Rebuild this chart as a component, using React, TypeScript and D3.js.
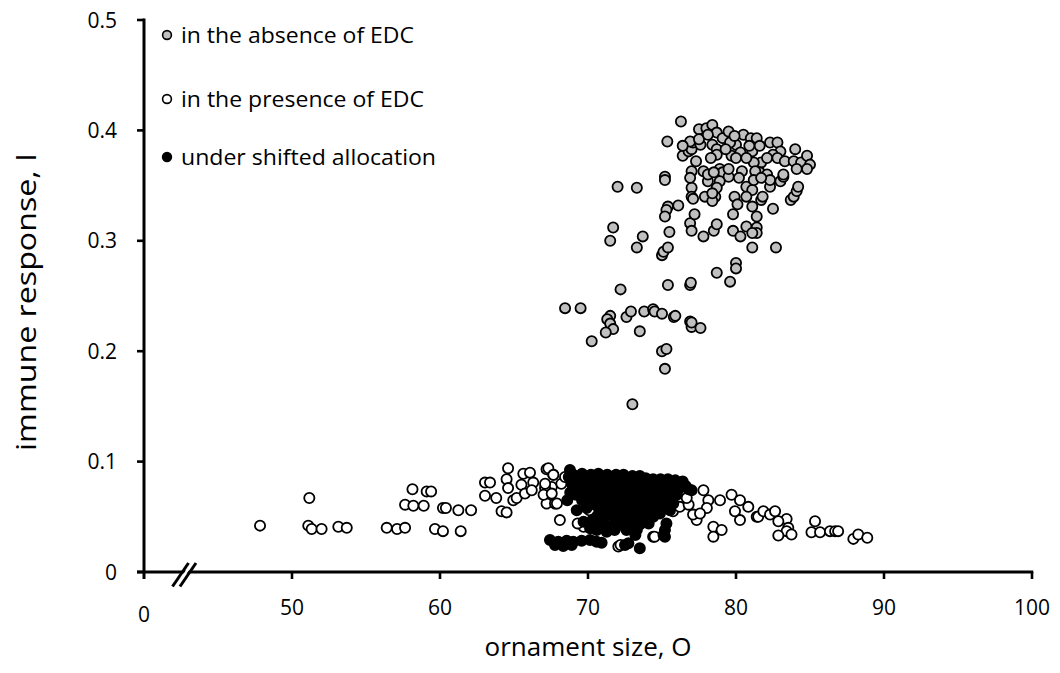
import React from "react";
import * as d3 from "d3";

// ---- data (ornament size O, immune response I) ----
const absenceEDC: [number, number][] = [
  [76.28,0.408],[75.36,0.390],[72.0,0.349],[73.3,0.348],[75.2,0.358],[75.2,0.355],[71.7,0.312],[71.5,0.300],
  [73.7,0.304],[73.3,0.294],[75.4,0.331],[75.3,0.328],[75.2,0.322],[76.1,0.332],[75.5,0.308],[75.0,0.287],
  [75.1,0.290],[75.4,0.294],[72.2,0.256],[75.4,0.260],[76.9,0.260],[76.95,0.262],[78.7,0.271],[79.6,0.263],
  [80.0,0.280],[80.0,0.275],[81.1,0.294],[82.7,0.294],[76.9,0.316],[77.0,0.309],[77.2,0.324],[77.8,0.304],
  [78.5,0.309],[78.7,0.315],[79.8,0.324],[79.8,0.309],[80.3,0.304],[80.7,0.313],[81.4,0.312],[81.4,0.307],
  [81.1,0.307],[81.1,0.331],[81.4,0.322],[82.5,0.329],[81.7,0.337],[81.8,0.340],[79.9,0.340],[80.1,0.333],
  [80.7,0.349],[81.1,0.346],[82.3,0.349],[83.0,0.354],[83.2,0.358],[83.7,0.337],[83.9,0.340],[84.1,0.345],
  [84.2,0.349],[77.0,0.348],[77.0,0.340],[77.1,0.338],[77.9,0.340],[78.1,0.354],[78.6,0.340],[78.4,0.336],
  [78.9,0.365],[79.1,0.362],[79.5,0.358],[77.0,0.363],[76.9,0.357],[77.8,0.363],[78.1,0.360],[77.3,0.372],
  [76.4,0.377],[76.8,0.381],[77.0,0.383],[77.1,0.389],[76.9,0.390],[77.5,0.401],[78.0,0.402],[78.4,0.405],
  [78.7,0.398],[77.6,0.387],[78.4,0.387],[78.7,0.383],[78.7,0.378],[79.1,0.393],[79.5,0.399],[80.0,0.387],
  [79.7,0.377],[80.3,0.380],[80.5,0.396],[81.0,0.393],[81.4,0.393],[81.1,0.381],[81.6,0.386],[81.7,0.371],
  [81.2,0.371],[81.6,0.362],[81.3,0.363],[81.2,0.355],[82.3,0.389],[82.8,0.389],[83.0,0.381],[82.5,0.378],
  [82.1,0.375],[82.8,0.375],[83.3,0.372],[83.9,0.372],[84.4,0.371],[84.8,0.377],[85.0,0.369],[84.0,0.383],
  [84.8,0.365],[84.1,0.365],[83.2,0.360],[80.4,0.363],[79.5,0.365],[78.9,0.354],[78.7,0.348],[78.4,0.343],
  [82.1,0.360],[82.3,0.355],[76.4,0.386],[77.5,0.392],[78.1,0.396],[79.6,0.389],[80.0,0.375],[80.7,0.375],
  [78.5,0.362],[80.7,0.340],[81.7,0.357],[79.3,0.383],[80.9,0.386],[79.9,0.395],[78.3,0.375],[80.2,0.357],
  [68.45,0.239],[69.5,0.239],[71.5,0.232],[71.3,0.229],[71.5,0.225],[71.7,0.220],[71.2,0.217],[70.25,0.209],
  [72.6,0.231],[72.9,0.236],[73.5,0.218],[73.8,0.236],[74.4,0.238],[74.5,0.236],[75.0,0.234],[75.8,0.231],
  [75.9,0.232],[76.9,0.227],[77.0,0.222],[77.0,0.226],[77.6,0.221],[75.0,0.200],[75.3,0.202],[75.2,0.184],
  [73.0,0.152]
];

const presenceEDC: [number, number][] = [
  [47.84,0.042],[51.17,0.067],[51.1,0.042],[51.33,0.039],[52.0,0.039],[53.13,0.041],[53.7,0.040],
  [56.4,0.040],[57.1,0.039],[57.64,0.040],[58.14,0.075],[57.64,0.061],[58.2,0.060],[58.9,0.060],
  [59.1,0.073],[59.4,0.073],[59.66,0.039],[60.2,0.037],[60.2,0.058],[60.4,0.058],[61.24,0.056],[62.1,0.056],
  [61.4,0.037],[63.04,0.081],[63.38,0.081],[63.04,0.069],[63.8,0.067],[64.16,0.055],[64.5,0.054],
  [64.6,0.094],[64.5,0.084],[64.6,0.076],[64.95,0.065],[65.18,0.067],[65.63,0.089],[66.08,0.090],
  [66.3,0.081],[67.2,0.093],[67.65,0.088],[67.55,0.077],[67.1,0.076],[67.2,0.062],[67.77,0.062],
  [65.5,0.079],[65.74,0.071],[66.2,0.074],[67.32,0.094],[67.66,0.088],[67.1,0.080],[67.0,0.070],
  [67.9,0.062],[67.55,0.071],[68.1,0.047],[68.2,0.080],[68.45,0.086],[69.7,0.041],[70.36,0.055],
  [69.3,0.044],[70.1,0.056],[72.05,0.023],[72.2,0.0245],[74.4,0.032],[74.5,0.032],[75.74,0.055],[75.74,0.067],
  [76.2,0.059],[76.8,0.061],[77.34,0.047],[77.8,0.074],[78.13,0.065],[78.03,0.058],[78.47,0.041],[78.47,0.032],
  [79.03,0.038],[78.92,0.065],[79.7,0.070],[80.27,0.065],[79.93,0.055],[80.27,0.047],[80.83,0.059],
  [77.1,0.052],[77.57,0.053],[76.67,0.067],[76.1,0.077],[81.4,0.050],[81.5,0.050],[81.85,0.055],[82.3,0.052],
  [82.64,0.055],[83.42,0.048],[82.86,0.046],[83.53,0.040],[83.42,0.037],[82.86,0.033],[83.75,0.034],
  [85.34,0.046],[85.1,0.036],[85.68,0.036],[86.35,0.037],[86.7,0.037],[86.9,0.037],[87.93,0.030],
  [88.26,0.034],[88.87,0.031]
];

const shiftedAllocation: [number, number][] = [
  [67.43,0.029],[67.99,0.0275],[68.56,0.0284],[69.0,0.0275],[69.57,0.0284],[70.14,0.029],[70.58,0.0275],[70.92,0.0266],
  [67.77,0.0245],[68.33,0.0236],[68.9,0.0245],[72.5,0.0245],[72.73,0.026],[73.5,0.0215],
  [75.1,0.0335],[75.2,0.032],[75.3,0.044],[75.2,0.038],[73.2,0.0335],[73.3,0.038],
  [69.7,0.0456],[70.14,0.0396],[70.59,0.038],[71.26,0.0365],[71.8,0.038],[72.6,0.038],
  [70.3,0.043],[71.0,0.043],[71.6,0.042],[72.2,0.043],[72.9,0.044],[73.5,0.043],[74.1,0.044],
  [69.24,0.056],[69.91,0.058],[70.59,0.050],[71.15,0.050],[71.7,0.052],[72.38,0.049],[73.06,0.046],[73.74,0.047],[74.41,0.050],
  [70.9,0.055],[71.5,0.056],[72.1,0.054],[72.8,0.053],[73.4,0.052],[74.0,0.055],[74.7,0.057],[70.3,0.047],[71.9,0.047],
  [74.86,0.053],[75.54,0.056],[75.76,0.062],
  [70.0,0.060],[70.6,0.060],[71.2,0.060],[71.8,0.060],[72.4,0.060],[73.1,0.060],[73.7,0.060],[74.4,0.060],[75.0,0.060],
  [69.6,0.065],[70.2,0.065],[70.8,0.065],[71.3,0.065],[71.9,0.065],[72.5,0.065],[73.0,0.065],[73.6,0.065],[74.1,0.065],[74.7,0.065],[75.2,0.065],
  [69.2,0.070],[69.8,0.070],[70.4,0.070],[71.0,0.070],[71.5,0.070],[72.1,0.070],[72.6,0.070],[73.2,0.070],[73.8,0.070],[74.3,0.070],[74.9,0.070],[75.4,0.070],[76.0,0.070],
  [69.4,0.075],[70.0,0.075],[70.6,0.075],[71.1,0.075],[71.7,0.075],[72.3,0.075],[72.8,0.075],[73.4,0.075],[73.9,0.075],[74.5,0.075],[75.0,0.075],[75.6,0.075],[76.1,0.075],[76.8,0.075],
  [69.1,0.080],[69.7,0.080],[70.3,0.080],[70.8,0.080],[71.4,0.080],[72.0,0.080],[72.5,0.080],[73.1,0.080],[73.6,0.080],[74.2,0.080],[74.7,0.080],[75.3,0.080],[75.8,0.080],[76.3,0.080],
  [69.3,0.085],[70.0,0.085],[70.5,0.085],[71.1,0.085],[71.6,0.085],[72.2,0.085],[72.8,0.085],[73.3,0.085],[73.9,0.085],[74.4,0.084],[74.9,0.084],[75.4,0.084],[75.9,0.083],
  [69.0,0.088],[69.6,0.089],[70.2,0.088],[70.7,0.089],[71.3,0.088],[71.9,0.088],[72.4,0.088],[73.0,0.087],[73.5,0.087],
  [68.78,0.0925],[68.6,0.065],[68.8,0.072],[68.9,0.080],[68.7,0.086],[76.6,0.078],[77.0,0.074],[76.4,0.082]
];

const xTicks = [50, 60, 70, 80, 90, 100];
const yTicks = [0, 0.1, 0.2, 0.3, 0.4, 0.5];
const legendItems = ["in the absence of EDC", "in the presence of EDC", "under shifted allocation"];
const legendFills = ["#c0c0c0", "#ffffff", "#000000"];

const W = 1060, H = 673;
const FONT = "'Open Sans', sans-serif";

export default function App() {
  const x = d3.scaleLinear().domain([40, 100]).range([144, 1032]);
  const y = d3.scaleLinear().domain([0, 0.5]).range([572, 20]);
  const r = 5.1;
  const series: { data: [number, number][]; fill: string }[] = [
    { data: absenceEDC, fill: legendFills[0] },
    { data: presenceEDC, fill: legendFills[1] },
    { data: shiftedAllocation, fill: legendFills[2] },
  ];
  const x0 = x(40), yBase = y(0);
  const legendLens = [233, 243, 255];
  return (
    <svg width={W} height={H} style={{ position: "absolute", left: 0, top: 0, background: "#fff" }} fontFamily={FONT}>
      <rect x={0} y={0} width={W} height={H} fill="#fff" />
      {/* points */}
      {series.map((s, i) => (
        <g key={i}>
          {s.data.map((d, j) => (
            <circle key={j} cx={x(d[0])} cy={y(d[1])} r={r} fill={s.fill} stroke="#000" strokeWidth={1.8} />
          ))}
        </g>
      ))}
      {/* y axis */}
      <line x1={x0} x2={x0} y1={y(0.5) - 1.5} y2={yBase + 7} stroke="#000" strokeWidth={3} />
      {yTicks.map((t) => (
        <g key={t}>
          <line x1={x0 - 7} x2={x0} y1={y(t)} y2={y(t)} stroke="#000" strokeWidth={2.6} />
          <text x={117} y={y(t)} dy="0.36em" textAnchor="end" fontSize={21} fill="#000">
            {t === 0 ? "0" : t.toFixed(1)}
          </text>
        </g>
      ))}
      {/* x axis */}
      <line x1={x0 - 7} x2={x(100) + 1.3} y1={yBase} y2={yBase} stroke="#000" strokeWidth={3} />
      {xTicks.map((t) => (
        <g key={t}>
          <line x1={x(t)} x2={x(t)} y1={yBase} y2={yBase + 7} stroke="#000" strokeWidth={2.6} />
          <text x={x(t)} y={615} textAnchor="middle" fontSize={21} fill="#000">{t}</text>
        </g>
      ))}
      <text x={x0} y={622} textAnchor="middle" fontSize={21} fill="#000">0</text>
      {/* axis break */}
      <polygon points="175,586 191,563 194,563 178,586" fill="#fff" />
      <line x1={172.5} y1={586.5} x2={188.5} y2={563} stroke="#000" strokeWidth={3} />
      <line x1={180} y1={586.5} x2={196} y2={563} stroke="#000" strokeWidth={3} />
      {/* legend */}
      {legendItems.map((lab, i) => {
        const ly = [35, 99, 157][i];
        return (
          <g key={lab}>
            <circle cx={167} cy={ly} r={4.4} fill={legendFills[i]} stroke="#000" strokeWidth={1.6} />
            <text x={181} y={ly} dy="0.36em" fontSize={21} fill="#000" textLength={legendLens[i]} lengthAdjust="spacingAndGlyphs">
              {lab}
            </text>
          </g>
        );
      })}
      {/* axis titles */}
      <text x={588} y={656} textAnchor="middle" fontSize={26} fill="#000" textLength={207} lengthAdjust="spacingAndGlyphs">ornament size, O</text>
      <text transform="translate(36,302) rotate(-90)" textAnchor="middle" fontSize={27} fill="#000" textLength={298} lengthAdjust="spacingAndGlyphs">immune response, I</text>
    </svg>
  );
}
